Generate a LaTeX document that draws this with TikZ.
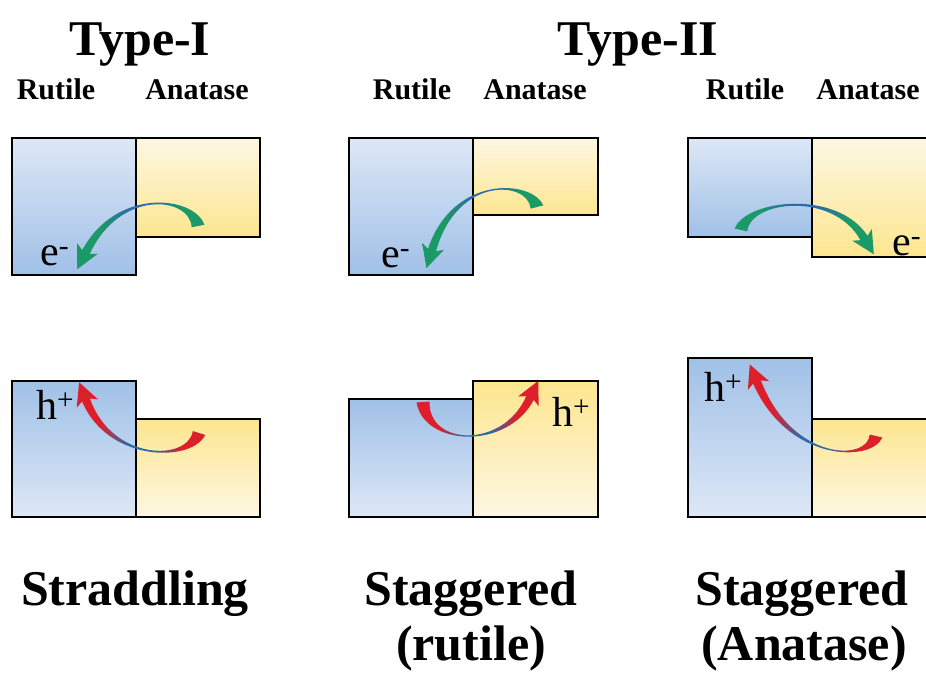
\documentclass[tikz,border=0pt]{standalone}
\usepackage{fontspec}
\setmainfont{Liberation Serif}
\usetikzlibrary{calc}
\definecolor{egreen}{HTML}{1B9966}
\definecolor{ablue}{HTML}{2F6AA8}
\definecolor{hred}{HTML}{DC1F2B}
\definecolor{rutL}{HTML}{DDE8F6}
\definecolor{rutD}{HTML}{A0C0E7}
\definecolor{anaL}{HTML}{FDF7E3}
\definecolor{anaD}{HTML}{FDE68F}
\pgfdeclarehorizontalshading{eshade}{100bp}{color(0bp)=(egreen); color(25bp)=(egreen); color(34bp)=(egreen); color(45bp)=(ablue); color(55bp)=(ablue); color(66bp)=(egreen); color(100bp)=(egreen)}
\pgfdeclarehorizontalshading{hshade}{100bp}{color(0bp)=(hred); color(25bp)=(hred); color(34bp)=(hred); color(45bp)=(ablue); color(55bp)=(ablue); color(66bp)=(hred); color(100bp)=(hred)}
% #1 shading, #2..#5 centre-line points P0 (tail) .. P3 (head base)
\newcommand\bandarrow[5]{%
  \shade[shading=#1]
    ($(#2)!6.5pt!90:(#3)$) .. controls ($(#3)!2pt!-90:(#2)$) and ($(#4)!2pt!90:(#5)$) .. ($(#5)!4.2pt!-90:(#4)$)
    -- ($(#5)!12pt!-72:(#4)$) -- ($(#5)!-19pt!(#4)$) -- ($(#5)!12pt!72:(#4)$)
    -- ($(#5)!4.2pt!90:(#4)$) .. controls ($(#4)!2pt!-90:(#5)$) and ($(#3)!2pt!90:(#2)$) .. ($(#2)!6.5pt!-90:(#3)$)
    -- cycle;}
\tikzset{
  box/.style={line width=2.8pt, line join=miter},
  title/.style={font=\fontsize{50}{60}\selectfont\bfseries, anchor=base, inner sep=0pt},
  sub/.style={font=\fontsize{30}{36}\selectfont\bfseries, anchor=base, inner sep=0pt},
  carrier/.style={font=\fontsize{42}{50}\selectfont, anchor=base west, inner sep=0pt}
}
\begin{document}
\begin{tikzpicture}[x=1pt,y=-1pt]
\useasboundingbox (0,0) rectangle (926,675);
\clip (0,0) rectangle (926,675);
% ---- titles
\node[title] (t1) at (140,55) {Type-I};
\node[title] (t2) at (638,55) {Type-II};
\node[sub] (r1) at (56,99) {Rutile};
\node[sub] (a1) at (197,99) {Anatase};
\node[sub] (r2) at (412,99) {Rutile};
\node[sub] (a2) at (535,99) {Anatase};
\node[sub] (r3) at (745,99) {Rutile};
\node[sub] (a3) at (868,99) {Anatase};
\node[title] (b1) at (135,605) {Straddling};
\node[title] (b2) at (471,605) {Staggered};
\node[title] (b2b) at (471,660) {(rutile)};
\node[title] (b3) at (802,605) {Staggered};
\node[title] (b3b) at (804,660) {(Anatase)};
% ---- band boxes: fills
\shade[top color=rutL,bottom color=rutD] (12,138) rectangle (136,275);
\shade[top color=anaL,bottom color=anaD] (136,138) rectangle (260,237);
\shade[top color=rutD,bottom color=rutL] (12,381) rectangle (136,517);
\shade[top color=anaD,bottom color=anaL] (136,419) rectangle (260,517);
\shade[top color=rutL,bottom color=rutD] (349,138) rectangle (473,275);
\shade[top color=anaL,bottom color=anaD] (473,138) rectangle (598,215);
\shade[top color=rutD,bottom color=rutL] (349,399) rectangle (473,517);
\shade[top color=anaD,bottom color=anaL] (473,381) rectangle (598,517);
\shade[top color=rutL,bottom color=rutD] (688,138) rectangle (812,237);
\shade[top color=anaL,bottom color=anaD] (812,138) rectangle (936,257);
\shade[top color=rutD,bottom color=rutL] (688,358) rectangle (812,517);
\shade[top color=anaD,bottom color=anaL] (812,419) rectangle (936,517);
% ---- band boxes: outlines
\draw[box] (12,138) rectangle (136,275);
\draw[box] (136,138) rectangle (260,237);
\draw[box] (12,381) rectangle (136,517);
\draw[box] (136,419) rectangle (260,517);
\draw[box] (349,138) rectangle (473,275);
\draw[box] (473,138) rectangle (598,215);
\draw[box] (349,399) rectangle (473,517);
\draw[box] (473,381) rectangle (598,517);
\draw[box] (688,138) rectangle (812,237);
\draw[box] (812,138) rectangle (936,257);
\draw[box] (688,358) rectangle (812,517);
\draw[box] (812,419) rectangle (936,517);
% ---- carrier labels
\node[carrier] (e1) at (40,265) {e\textsuperscript{-}};
\node[carrier] (e2) at (381,267) {e\textsuperscript{-}};
\node[carrier] (e3) at (892,255) {e\textsuperscript{-}};
\node[carrier] (h1) at (36,419) {h\textsuperscript{+}};
\node[carrier] (h2) at (552,426) {h\textsuperscript{+}};
\node[carrier] (h3) at (704,401) {h\textsuperscript{+}};
% ---- transfer arrows
\bandarrow{eshade}{198,226}{192,196}{118,188}{86,252}
\bandarrow{eshade}{537,207}{530,180}{455,175}{432,250}
\bandarrow{eshade}{741,230}{748,200}{835,190}{864,238}
\bandarrow{hshade}{199,433}{190,462}{110,462}{86,400}
\bandarrow{hshade}{423,402}{426,446}{505,450}{530,398}
\bandarrow{hshade}{876,436}{870,462}{790,462}{757,382}
\end{tikzpicture}
\end{document}
